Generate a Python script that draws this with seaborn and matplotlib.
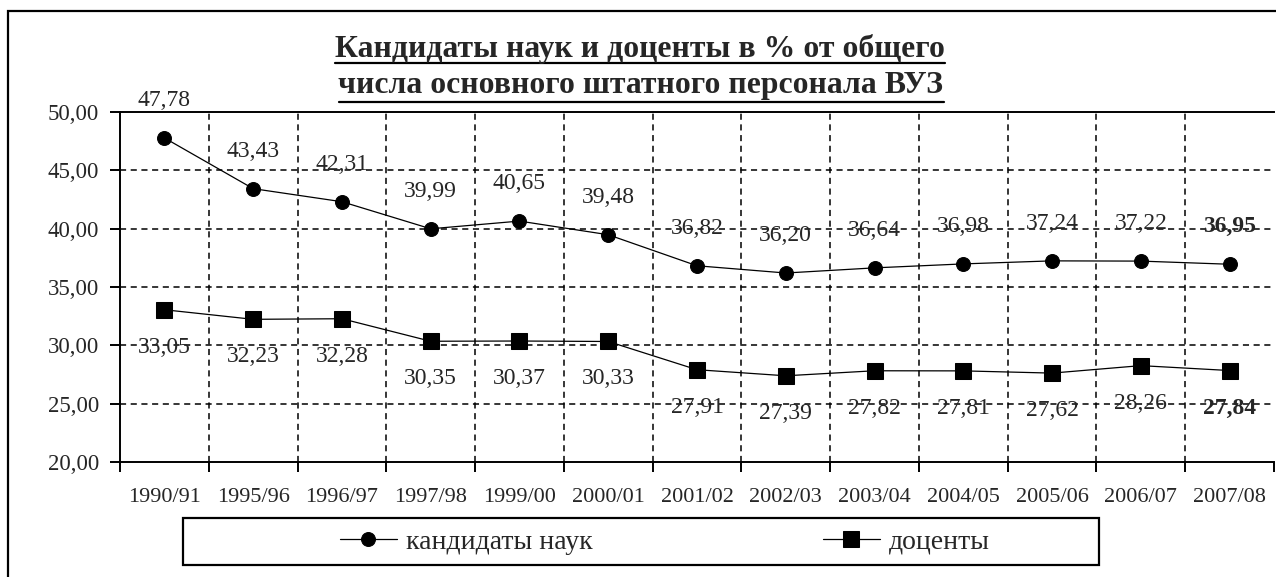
import matplotlib
matplotlib.use("Agg")
import matplotlib.pyplot as plt
import seaborn as sns
import pandas as pd
import numpy as np
from matplotlib.patches import Rectangle
from matplotlib.lines import Line2D

# ---- data ----
categories = ["1990/91", "1995/96", "1996/97", "1997/98", "1999/00", "2000/01",
              "2001/02", "2002/03", "2003/04", "2004/05", "2005/06", "2006/07", "2007/08"]
candidates = [47.78, 43.43, 42.31, 39.99, 40.65, 39.48, 36.82, 36.20, 36.64, 36.98, 37.24, 37.22, 36.95]
docents = [33.05, 32.23, 32.28, 30.35, 30.37, 30.33, 27.91, 27.39, 27.82, 27.81, 27.62, 28.26, 27.84]
series_names = ["кандидаты наук", "доценты"]
title_lines = ["Кандидаты наук и доценты в % от общего",
               "числа основного штатного персонала ВУЗ"]
y_ticks = [20, 25, 30, 35, 40, 45, 50]

W, H = 1276, 577
sns.set_theme(style="white")
plt.rcParams["font.family"] = ["Liberation Serif", "DejaVu Serif"]

fig = plt.figure(figsize=(W / 100, H / 100), dpi=100)
ax = fig.add_axes([120 / W, (H - 462) / H, (1274 - 120) / W, 350 / H])

idx = list(range(len(categories)))
df = pd.DataFrame({"idx": idx, "cand": candidates, "doc": docents})

sns.lineplot(data=df, x="idx", y="cand", ax=ax, color="black", lw=0.9,
             marker="o", markersize=10, markeredgecolor="black", label=series_names[0], legend=False)
sns.lineplot(data=df, x="idx", y="doc", ax=ax, color="black", lw=0.9,
             marker="s", markersize=11, markeredgecolor="black", label=series_names[1], legend=False)

ax.set_xlim(-0.5, len(categories) - 0.5)
ax.set_ylim(20, 50)
ax.set_xlabel("")
ax.set_ylabel("")

# axes styling
for s in ["left", "bottom", "top"]:
    ax.spines[s].set_visible(True)
    ax.spines[s].set_color("black")
    ax.spines[s].set_linewidth(1.4)
ax.spines["right"].set_visible(False)

ax.set_yticks(y_ticks)
ax.set_yticklabels([f"{v:.2f}".replace(".", ",") for v in y_ticks], fontsize=16.5)
ax.set_xticks(idx)
ax.set_xticklabels(categories, fontsize=16)
ax.set_xticks(np.arange(-0.5, len(categories), 1.0), minor=True)
ax.tick_params(axis="x", which="major", length=0, pad=19)
ax.tick_params(axis="x", which="minor", length=7, width=1.4, direction="out", color="black", bottom=True)
ax.tick_params(axis="y", which="major", length=7, width=1.4, direction="out", color="black", pad=8, left=True)

dash = (0, (4.0, 3.0))
ax.grid(False)
for v in y_ticks[1:-1]:
    ax.axhline(v, color="black", lw=1.1, ls=dash, zorder=0.5)
for v in np.arange(0.5, len(categories) - 0.5, 1.0):
    ax.axvline(v, color="black", lw=1.1, ls=dash, zorder=0.5)

# data labels
off = 27
for i, v in enumerate(candidates):
    ax.annotate(f"{v:.2f}".replace(".", ","), (i, v), xytext=(0, off), textcoords="offset points",
                ha="center", va="center", fontsize=17,
                fontweight="bold" if i == len(candidates) - 1 else "normal")
for i, v in enumerate(docents):
    ax.annotate(f"{v:.2f}".replace(".", ","), (i, v), xytext=(0, -off), textcoords="offset points",
                ha="center", va="center", fontsize=17,
                fontweight="bold" if i == len(docents) - 1 else "normal")

# title with underline, fitted to target width
fig.canvas.draw()
renderer = fig.canvas.get_renderer()
title_base = [57, 93]
underline_y = [63, 102]
target_w = 610
fs = 17
t0 = fig.text(640 / W, 1 - title_base[0] / H, title_lines[0], ha="center", va="baseline",
              fontsize=fs, fontweight="bold")
bb = t0.get_window_extent(renderer)
fs = fs * target_w / bb.width
t0.set_fontsize(fs)
t1 = fig.text(641 / W, 1 - title_base[1] / H, title_lines[1], ha="center", va="baseline",
              fontsize=fs, fontweight="bold")
fig.canvas.draw()
for t, uy in zip([t0, t1], underline_y):
    bb = t.get_window_extent(renderer)
    fig.add_artist(Line2D([bb.x0 / W, bb.x1 / W], [1 - uy / H, 1 - uy / H], color="black", lw=1.6,
                          transform=fig.transFigure))

# legend
handles = [ax.lines[0], ax.lines[1]]
leg = fig.legend(handles=handles, labels=series_names, loc="center left",
                 bbox_to_anchor=(340 / W, 1 - 542 / H), ncol=2, frameon=False,
                 fontsize=20, handlelength=2.05, handletextpad=0.32, columnspacing=8.3,
                 borderpad=0, borderaxespad=0)
fig.add_artist(Rectangle((183 / W, 1 - 565 / H), (1099 - 183) / W, 47 / H, fill=False,
                         edgecolor="black", lw=1.6, transform=fig.transFigure))

# outer chart border
fig.add_artist(Rectangle((8 / W, -0.05), 1.2, (H - 11) / H + 0.05, fill=False,
                         edgecolor="black", lw=1.6, transform=fig.transFigure, clip_on=False))

fig.savefig("out.png", dpi=100, facecolor="white")
